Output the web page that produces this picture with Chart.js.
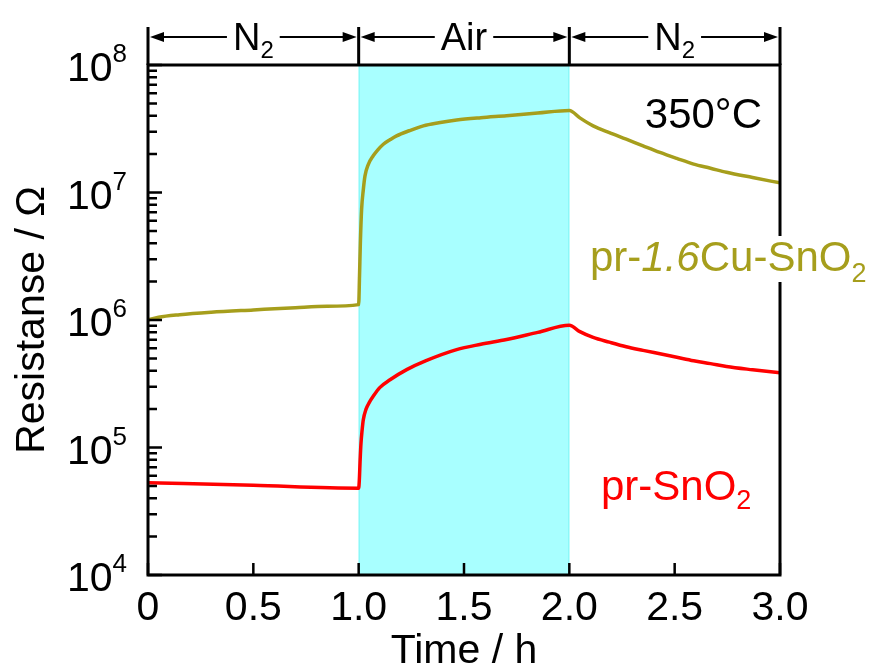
<!DOCTYPE html>
<html>
<head>
<meta charset="utf-8">
<script src="https://cdn.jsdelivr.net/npm/chart.js@4.4.1/dist/chart.umd.min.js"></script>
<style>
  html, body { margin: 0; padding: 0; background: #fff; }
  canvas { display: block; }
</style>
</head>
<body>
<canvas id="chart" width="874" height="670"></canvas>
<script>
const FONT = "'Liberation Sans', Arial, sans-serif";

// pr-1.6Cu-SnO2 (olive)
const cuTime = [0, 0.05, 0.15, 0.3, 0.5, 0.7, 0.85, 1.0, 1.004, 1.008, 1.014, 1.022, 1.03, 1.045, 1.069, 1.09, 1.117, 1.15, 1.18, 1.24, 1.307, 1.38, 1.465, 1.58, 1.702, 1.85, 2.0,
  2.05, 2.113, 2.19, 2.27, 2.35, 2.43, 2.51, 2.59, 2.67, 2.746, 2.87, 3.0];
const cuRes = [1.0e6, 1.05e6, 1.1e6, 1.15e6, 1.2e6, 1.25e6, 1.28e6, 1.32e6, 2.2e6, 4.0e6, 7.4e6, 1.05e7, 1.35e7, 1.65e7, 1.94e7, 2.15e7, 2.39e7, 2.6e7, 2.78e7, 3.05e7, 3.33e7, 3.52e7, 3.70e7, 3.86e7, 4.0e7, 4.2e7, 4.4e7,
  3.85e7, 3.33e7, 2.95e7, 2.62e7, 2.32e7, 2.06e7, 1.85e7, 1.67e7, 1.55e7, 1.44e7, 1.31e7, 1.19e7];

// pr-SnO2 (red)
const snTime = [0, 0.5, 1.0, 1.003, 1.007, 1.011, 1.016, 1.022, 1.035, 1.05, 1.069, 1.1, 1.149, 1.228, 1.32, 1.465, 1.58, 1.702, 1.85, 2.0,
  2.05, 2.113, 2.19, 2.27, 2.35, 2.43, 2.51, 2.59, 2.67, 2.746, 2.87, 3.0];
const snRes = [5.3e4, 5.05e4, 4.8e4, 5.5e4, 8.0e4, 1.08e5, 1.35e5, 1.65e5, 2.0e5, 2.25e5, 2.52e5, 2.95e5, 3.40e5, 4.08e5, 4.8e5, 5.86e5, 6.45e5, 7.03e5, 8.0e5, 9.1e5,
  8.1e5, 7.3e5, 6.7e5, 6.17e5, 5.78e5, 5.43e5, 5.1e5, 4.79e5, 4.55e5, 4.32e5, 4.07e5, 3.85e5];

const xTicks = [0, 0.5, 1.0, 1.5, 2.0, 2.5, 3.0];
const yTicks = [1e4, 1e5, 1e6, 1e7, 1e8];
const airRange = [1.0, 2.0];
const gasSegments = [[0, 1, 'N', '2'], [1, 2, 'Air', ''], [2, 3, 'N', '2']];

function pts(xs, ys) {
  return xs.map((x, i) => ({ x: x, y: ys[i] }));
}

function fnt(r) {
  return (r.italic ? 'italic ' : '') + r.size + 'px ' + FONT;
}

function measureRuns(ctx, runs) {
  let w = 0;
  runs.forEach(r => { ctx.font = fnt(r); r.w = ctx.measureText(r.t).width; w += r.w; });
  return w;
}

function drawRuns(ctx, x, y, runs, align, color) {
  const w = measureRuns(ctx, runs);
  let cx = align === 'right' ? x - w : align === 'center' ? x - w / 2 : x;
  ctx.fillStyle = color;
  ctx.textAlign = 'left';
  ctx.textBaseline = 'alphabetic';
  runs.forEach(r => {
    ctx.font = fnt(r);
    ctx.fillText(r.t, cx, y + (r.dy || 0));
    cx += r.w;
  });
}

const decor = {
  id: 'decor',
  beforeDatasetsDraw(chart) {
    const { ctx, chartArea: a, scales: { x } } = chart;
    const x1 = x.getPixelForValue(airRange[0]);
    const x2 = x.getPixelForValue(airRange[1]);
    ctx.save();
    ctx.fillStyle = '#a8ffff';
    ctx.fillRect(x1, a.top, x2 - x1, a.bottom - a.top);
    ctx.strokeStyle = '#7ff5f5';
    ctx.lineWidth = 1;
    ctx.beginPath();
    ctx.moveTo(x1 + 0.5, a.top); ctx.lineTo(x1 + 0.5, a.bottom);
    ctx.moveTo(x2 - 0.5, a.top); ctx.lineTo(x2 - 0.5, a.bottom);
    ctx.stroke();
    ctx.restore();
  },
  afterDraw(chart) {
    const { ctx, chartArea: a, scales: { x, y } } = chart;
    ctx.save();
    ctx.strokeStyle = '#000';
    ctx.lineWidth = 3;
    ctx.strokeRect(a.left, a.top, a.right - a.left, a.bottom - a.top);

    // inward ticks, x
    ctx.lineWidth = 2.5;
    ctx.beginPath();
    xTicks.forEach(v => {
      const px = x.getPixelForValue(v);
      ctx.moveTo(px, a.bottom);
      ctx.lineTo(px, a.bottom - 12);
    });
    // inward ticks, y (log)
    for (let d = 4; d <= 8; d++) {
      const py = y.getPixelForValue(Math.pow(10, d));
      ctx.moveTo(a.left, py);
      ctx.lineTo(a.left + 14, py);
      if (d < 8) {
        for (let m = 2; m <= 9; m++) {
          const pm = y.getPixelForValue(m * Math.pow(10, d));
          ctx.moveTo(a.left, pm);
          ctx.lineTo(a.left + 9, pm);
        }
      }
    }
    ctx.stroke();

    // y tick labels 10^n
    yTicks.forEach(v => {
      const py = y.getPixelForValue(v);
      const e = Math.round(Math.log10(v));
      drawRuns(ctx, 127, py, [
        { t: '10', size: 41, dy: 16 },
        { t: String(e), size: 26, dy: -3 }
      ], 'right', '#000');
    });

    // gas bands on top
    const barTop = 27, arrowY = 37;
    ctx.lineWidth = 3;
    ctx.beginPath();
    [0, 1, 2, 3].forEach(v => {
      const px = x.getPixelForValue(v);
      ctx.moveTo(px, barTop);
      ctx.lineTo(px, a.top);
    });
    ctx.stroke();
    gasSegments.forEach(s => {
      const p1 = x.getPixelForValue(s[0]) + 2;
      const p2 = x.getPixelForValue(s[1]) - 2;
      ctx.lineWidth = 2;
      ctx.beginPath();
      ctx.moveTo(p1 + 10, arrowY);
      ctx.lineTo(p2 - 10, arrowY);
      ctx.stroke();
      ctx.fillStyle = '#000';
      ctx.beginPath();
      ctx.moveTo(p1, arrowY); ctx.lineTo(p1 + 14, arrowY - 5); ctx.lineTo(p1 + 14, arrowY + 5); ctx.closePath();
      ctx.moveTo(p2, arrowY); ctx.lineTo(p2 - 14, arrowY - 5); ctx.lineTo(p2 - 14, arrowY + 5); ctx.closePath();
      ctx.fill();
      const runs = [{ t: s[2], size: 38, dy: 0 }];
      if (s[3]) runs.push({ t: s[3], size: 24, dy: 8 });
      const w = measureRuns(ctx, runs);
      const mid = (p1 + p2) / 2;
      ctx.fillStyle = '#fff';
      ctx.fillRect(mid - w / 2 - 6, 20, w + 12, 40);
      drawRuns(ctx, mid, 50, runs, 'center', '#000');
    });

    // annotations
    drawRuns(ctx, 762, 128, [{ t: '350°C', size: 42 }], 'right', '#000');
    const cuRuns = [
      { t: 'pr-', size: 42 },
      { t: '1.6', size: 42, italic: true },
      { t: 'Cu-SnO', size: 42 },
      { t: '2', size: 27, dy: 11 }
    ];
    const cw = measureRuns(ctx, cuRuns);
    ctx.fillStyle = '#fff';
    ctx.fillRect(588, 236, cw + 4, 46);
    drawRuns(ctx, 590, 271, cuRuns, 'left', '#a69e1c');
    drawRuns(ctx, 601, 500, [
      { t: 'pr-SnO', size: 42 },
      { t: '2', size: 27, dy: 9 }
    ], 'left', '#ff0000');
    ctx.restore();
  }
};

new Chart(document.getElementById('chart'), {
  type: 'line',
  plugins: [decor],
  data: {
    datasets: [
      {
        label: 'pr-1.6Cu-SnO2',
        data: pts(cuTime, cuRes),
        borderColor: '#a69e1c',
        borderWidth: 3.5,
        pointRadius: 0,
        cubicInterpolationMode: 'monotone',
        fill: false
      },
      {
        label: 'pr-SnO2',
        data: pts(snTime, snRes),
        borderColor: '#ff0000',
        borderWidth: 3.5,
        pointRadius: 0,
        cubicInterpolationMode: 'monotone',
        fill: false
      }
    ]
  },
  options: {
    responsive: false,
    animation: false,
    devicePixelRatio: 1,
    layout: { padding: { top: 65, right: 94, left: 0, bottom: 0 } },
    plugins: {
      legend: { display: false },
      tooltip: { enabled: false },
      title: { display: false }
    },
    scales: {
      x: {
        type: 'linear',
        min: 0,
        max: 3,
        afterFit: s => { s.height = 95; },
        grid: { display: false, drawTicks: false },
        border: { display: false },
        afterBuildTicks: s => { s.ticks = xTicks.map(v => ({ value: v })); },
        ticks: {
          color: '#000',
          font: { family: FONT, size: 41 },
          padding: 9,
          maxRotation: 0,
          autoSkip: false,
          callback: v => (v === 0 ? '0' : v.toFixed(1))
        },
        title: {
          display: true,
          text: 'Time / h',
          color: '#000',
          font: { family: FONT, size: 41, lineHeight: 0.9 },
          padding: { top: 0, bottom: 0 }
        }
      },
      y: {
        type: 'logarithmic',
        min: 1e4,
        max: 1e8,
        afterFit: s => { s.width = 148; },
        grid: { display: false },
        border: { display: false },
        ticks: { display: false },
        title: {
          display: true,
          text: 'Resistanse / Ω',
          color: '#000',
          font: { family: FONT, size: 41 },
          padding: { top: 8, bottom: 0 }
        }
      }
    }
  }
});
</script>
</body>
</html>
